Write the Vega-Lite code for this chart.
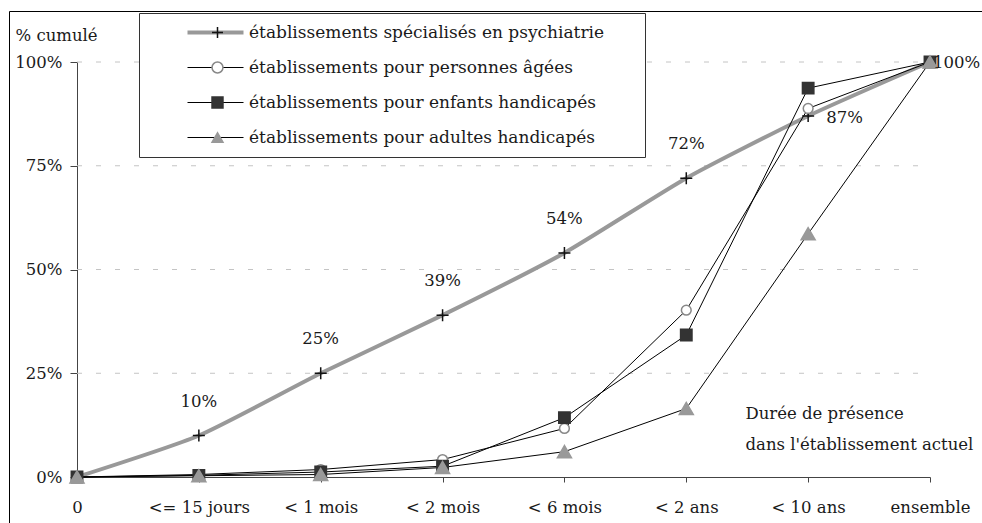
{
  "$schema": "https://vega.github.io/schema/vega-lite/v6.json",
  "width": 973,
  "height": 512,
  "autosize": {"type": "none"},
  "padding": {"left": 9, "top": 11, "right": 0, "bottom": 0},
  "background": "white",
  "config": {
    "view": {"stroke": "#000", "strokeWidth": 1},
    "font": "DejaVu Serif",
    "text": {"font": "DejaVu Serif", "fontSize": 16.5, "color": "#1a1a1a"},
    "axis": {"labelFont": "DejaVu Serif", "labelFontSize": 16.5, "labelColor": "#1a1a1a", "titleFont": "DejaVu Serif", "titleFontSize": 16.5, "titleFontWeight": "normal", "titleColor": "#1a1a1a", "domainColor": "#444", "tickColor": "#444", "grid": false},
    "legend": {"labelFont": "DejaVu Serif", "labelFontSize": 17, "labelColor": "#1a1a1a", "titleFont": "DejaVu Serif", "titleFontSize": 12}
  },
  "datasets": {
    "main": [
      {"serie": "établissements spécialisés en psychiatrie", "duree": "0", "v": 0},
      {"serie": "établissements spécialisés en psychiatrie", "duree": "<= 15 jours", "v": 0.10},
      {"serie": "établissements spécialisés en psychiatrie", "duree": "< 1 mois", "v": 0.25},
      {"serie": "établissements spécialisés en psychiatrie", "duree": "< 2 mois", "v": 0.39},
      {"serie": "établissements spécialisés en psychiatrie", "duree": "< 6 mois", "v": 0.54},
      {"serie": "établissements spécialisés en psychiatrie", "duree": "< 2 ans", "v": 0.72},
      {"serie": "établissements spécialisés en psychiatrie", "duree": "< 10 ans", "v": 0.87},
      {"serie": "établissements spécialisés en psychiatrie", "duree": "ensemble", "v": 1},
      {"serie": "établissements pour personnes âgées", "duree": "0", "v": 0},
      {"serie": "établissements pour personnes âgées", "duree": "<= 15 jours", "v": 0.006},
      {"serie": "établissements pour personnes âgées", "duree": "< 1 mois", "v": 0.018},
      {"serie": "établissements pour personnes âgées", "duree": "< 2 mois", "v": 0.042},
      {"serie": "établissements pour personnes âgées", "duree": "< 6 mois", "v": 0.117},
      {"serie": "établissements pour personnes âgées", "duree": "< 2 ans", "v": 0.402},
      {"serie": "établissements pour personnes âgées", "duree": "< 10 ans", "v": 0.888},
      {"serie": "établissements pour personnes âgées", "duree": "ensemble", "v": 1},
      {"serie": "établissements pour enfants handicapés", "duree": "0", "v": 0},
      {"serie": "établissements pour enfants handicapés", "duree": "<= 15 jours", "v": 0.004},
      {"serie": "établissements pour enfants handicapés", "duree": "< 1 mois", "v": 0.012},
      {"serie": "établissements pour enfants handicapés", "duree": "< 2 mois", "v": 0.026},
      {"serie": "établissements pour enfants handicapés", "duree": "< 6 mois", "v": 0.143},
      {"serie": "établissements pour enfants handicapés", "duree": "< 2 ans", "v": 0.342},
      {"serie": "établissements pour enfants handicapés", "duree": "< 10 ans", "v": 0.937},
      {"serie": "établissements pour enfants handicapés", "duree": "ensemble", "v": 1},
      {"serie": "établissements pour adultes handicapés", "duree": "0", "v": 0},
      {"serie": "établissements pour adultes handicapés", "duree": "<= 15 jours", "v": 0.003},
      {"serie": "établissements pour adultes handicapés", "duree": "< 1 mois", "v": 0.006},
      {"serie": "établissements pour adultes handicapés", "duree": "< 2 mois", "v": 0.023},
      {"serie": "établissements pour adultes handicapés", "duree": "< 6 mois", "v": 0.061},
      {"serie": "établissements pour adultes handicapés", "duree": "< 2 ans", "v": 0.165},
      {"serie": "établissements pour adultes handicapés", "duree": "< 10 ans", "v": 0.586},
      {"serie": "établissements pour adultes handicapés", "duree": "ensemble", "v": 1}
    ],
    "grid": [{"v": 0.25}, {"v": 0.5}, {"v": 0.75}, {"v": 1}]
  },
  "layer": [
    {
      "data": {"name": "grid"},
      "mark": {"type": "rule", "stroke": "#c4c4c4", "strokeDash": [5, 14], "strokeWidth": 1},
      "encoding": {
        "x": {"datum": "0", "type": "nominal",
          "scale": {"type": "point", "domain": ["0", "<= 15 jours", "< 1 mois", "< 2 mois", "< 6 mois", "< 2 ans", "< 10 ans", "ensemble"], "range": [68, 921], "padding": 0},
          "axis": {"orient": "bottom", "offset": -46, "title": ["Durée de présence", "dans l'établissement actuel"], "titleX": 736, "titleY": -64, "titleAlign": "left", "titleBaseline": "middle", "titleLineHeight": 31, "labelAngle": 0, "tickSize": 5, "labelPadding": 17, "labelBaseline": "top"}},
        "x2": {"datum": "ensemble"},
        "y": {"field": "v", "type": "quantitative",
          "scale": {"domain": [0, 1], "range": [466, 51], "nice": false},
          "axis": {"orient": "left", "offset": -68, "values": [0, 0.25, 0.5, 0.75, 1], "format": ".0%", "title": "% cumulé", "titleAngle": 0, "titleX": -62, "titleY": 24, "titleAlign": "left", "titleBaseline": "middle", "tickSize": 7, "labelPadding": 8}}
      }
    },
    {
      "data": {"name": "main"},
      "transform": [{"filter": "datum.serie === 'établissements spécialisés en psychiatrie'"}],
      "mark": {"type": "line", "interpolate": "cardinal", "tension": 0.4, "strokeWidth": 4},
      "encoding": {
        "x": {"field": "duree", "type": "nominal", "sort": ["0", "<= 15 jours", "< 1 mois", "< 2 mois", "< 6 mois", "< 2 ans", "< 10 ans", "ensemble"]},
        "y": {"field": "v", "type": "quantitative"},
        "color": {"field": "serie", "type": "nominal",
          "scale": {"domain": ["établissements spécialisés en psychiatrie", "établissements pour personnes âgées", "établissements pour enfants handicapés", "établissements pour adultes handicapés"], "range": ["#999999", "#000000", "#000000", "#000000"]},
          "legend": {"orient": "none", "legendX": 130, "legendY": 2, "title": "x", "titleOrient": "right", "titleOpacity": 0, "titlePadding": 31, "padding": 2, "clipHeight": 35, "rowPadding": 0, "symbolType": "stroke", "symbolSize": 3136, "symbolOffset": 66, "labelOffset": 25, "labelLimit": 900, "strokeColor": "#333", "fillColor": "white",
            "encode": {"symbols": {"update": {"strokeWidth": {"signal": "datum.value === 'établissements spécialisés en psychiatrie' ? 4 : 1"}}}}}}
      }
    },
    {
      "data": {"name": "main"},
      "transform": [{"filter": "datum.serie !== 'établissements spécialisés en psychiatrie'"}],
      "mark": {"type": "line", "interpolate": "linear", "strokeWidth": 1},
      "encoding": {
        "x": {"field": "duree", "type": "nominal", "sort": ["0", "<= 15 jours", "< 1 mois", "< 2 mois", "< 6 mois", "< 2 ans", "< 10 ans", "ensemble"]},
        "y": {"field": "v", "type": "quantitative"},
        "color": {"field": "serie", "type": "nominal"}
      }
    },
    {
      "data": {"name": "main"},
      "mark": {"type": "point", "strokeWidth": 1.5, "opacity": 1},
      "encoding": {
        "x": {"field": "duree", "type": "nominal", "sort": ["0", "<= 15 jours", "< 1 mois", "< 2 mois", "< 6 mois", "< 2 ans", "< 10 ans", "ensemble"]},
        "y": {"field": "v", "type": "quantitative"},
        "shape": {"field": "serie", "type": "nominal", "sort": "descending",
          "scale": {"range": ["M-1,0H1M0,-1V1", "circle", "square", "triangle-up"]},
          "legend": {"orient": "none", "legendX": 130, "legendY": 2, "title": null, "padding": 2, "clipHeight": 35, "rowPadding": 0, "symbolOffset": 68, "labelExpr": "''", "labelOpacity": 0, "symbolStrokeWidth": 1.5, "symbolSize": 120, "labelLimit": 900}},
        "fill": {"field": "serie", "type": "nominal", "sort": "descending",
          "scale": {"range": ["#111111", "#ffffff", "#333333", "#999999"]},
          "legend": {"orient": "none", "legendX": 130, "legendY": 2, "title": null, "padding": 2, "clipHeight": 35, "rowPadding": 0, "symbolOffset": 68, "labelExpr": "''", "labelOpacity": 0, "symbolStrokeWidth": 1.5, "symbolSize": 120, "labelLimit": 900}},
        "stroke": {"field": "serie", "type": "nominal", "sort": "descending",
          "scale": {"range": ["#111111", "#888888", "#333333", "#999999"]},
          "legend": {"orient": "none", "legendX": 130, "legendY": 2, "title": null, "padding": 2, "clipHeight": 35, "rowPadding": 0, "symbolOffset": 68, "labelExpr": "''", "labelOpacity": 0, "symbolStrokeWidth": 1.5, "symbolSize": 120, "labelLimit": 900}},
        "size": {
          "condition": [
            {"test": "datum.serie === 'établissements pour adultes handicapés'", "value": 196},
            {"test": "datum.serie === 'établissements spécialisés en psychiatrie'", "value": 144},
            {"test": "datum.serie === 'établissements pour personnes âgées'", "value": 95}
          ],
          "value": 130
        }
      }
    },
    {
      "data": {"name": "main"},
      "transform": [
        {"filter": "datum.serie === 'établissements spécialisés en psychiatrie'"},
        {"filter": {"field": "duree", "oneOf": ["<= 15 jours", "< 1 mois", "< 2 mois", "< 6 mois", "< 2 ans"]}}
      ],
      "mark": {"type": "text", "dy": -34, "align": "center", "baseline": "middle"},
      "encoding": {
        "x": {"field": "duree", "type": "nominal"},
        "y": {"field": "v", "type": "quantitative"},
        "text": {"field": "v", "type": "quantitative", "format": ".0%"}
      }
    },
    {
      "data": {"name": "main"},
      "transform": [
        {"filter": "datum.serie === 'établissements spécialisés en psychiatrie'"},
        {"filter": {"field": "duree", "equal": "< 10 ans"}}
      ],
      "mark": {"type": "text", "dx": 18, "dy": 2, "align": "left", "baseline": "middle"},
      "encoding": {
        "x": {"field": "duree", "type": "nominal"},
        "y": {"field": "v", "type": "quantitative"},
        "text": {"field": "v", "type": "quantitative", "format": ".0%"}
      }
    },
    {
      "data": {"name": "main"},
      "transform": [
        {"filter": "datum.serie === 'établissements spécialisés en psychiatrie'"},
        {"filter": {"field": "duree", "equal": "ensemble"}}
      ],
      "mark": {"type": "text", "dx": 3, "dy": 1, "align": "left", "baseline": "middle"},
      "encoding": {
        "x": {"field": "duree", "type": "nominal"},
        "y": {"field": "v", "type": "quantitative"},
        "text": {"field": "v", "type": "quantitative", "format": ".0%"}
      }
    }
  ]
}
